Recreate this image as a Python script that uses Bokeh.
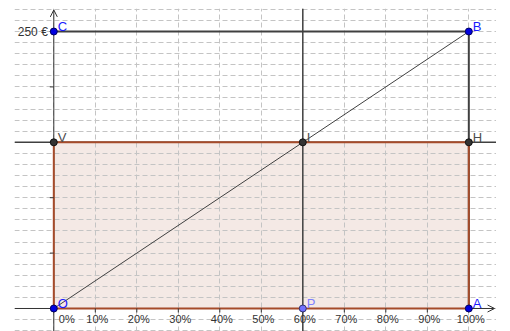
import math
from bokeh.plotting import figure
from bokeh.models import Range1d, Grid, SingleIntervalTicker, Span, Arrow, OpenHead, ColumnDataSource
from bokeh.core.properties import value
from bokeh.embed import file_html
from bokeh.resources import INLINE

# ---- data ----
pct_ticks = [0, 10, 20, 30, 40, 50, 60, 70, 80, 90, 100]
pct_labels = ["0%", "10%", "20%", "30%", "40%", "50%", "60%", "70%", "80%", "90%", "100%"]
eur_ticks = [50, 100, 150, 200, 250]
eur_label_values = [250]
eur_labels = ["250 €"]
point_names = ["O", "A", "B", "C", "V", "H", "I", "P"]
point_x = [0, 100, 100, 0, 0, 100, 60, 60]
point_y = [0, 0, 250, 250, 150, 150, 150, 0]
p_pct = 60
level_eur = 150

# ---- view ----
X0, X1 = -9.47, 106.67
Y0, Y1 = -20.76, 270.76
X_ARROW, Y_ARROW = 106.2, 269.5

pt = {n: (x, y) for n, x, y in zip(point_names, point_x, point_y)}

DARK = "#404040"
BROWN = "#a64b2a"

p = figure(width=496, height=331, x_range=Range1d(X0, X1), y_range=Range1d(Y0, Y1),
           x_axis_type=None, y_axis_type=None, output_backend="svg", toolbar_location=None,
           min_border_left=14, min_border_right=0, min_border_top=8, min_border_bottom=0)
p.outline_line_color = None
p.background_fill_color = "white"

for dim in (0, 1):
    g = Grid(dimension=dim, ticker=SingleIntervalTicker(interval=10),
             grid_line_color="#c4c4c4", grid_line_dash="5 3", grid_line_width=1)
    p.add_layout(g)

# polygon O A H V
poly = ["O", "A", "H", "V"]
p.patch([pt[n][0] for n in poly], [pt[n][1] for n in poly],
        fill_color=BROWN, fill_alpha=0.12, line_color=None, level="underlay")

# lines
p.add_layout(Span(location=level_eur, dimension="width", line_color=DARK, line_width=1.5, level="underlay"))
p.add_layout(Span(location=p_pct, dimension="height", line_color=DARK, line_width=1.5, level="underlay"))

# axes
p.add_layout(Arrow(end=OpenHead(size=7, line_color="#333333", line_width=1),
                   x_start=X0, y_start=0, x_end=X_ARROW, y_end=0,
                   line_color="#333333", line_width=1, level="underlay"))
p.add_layout(Arrow(end=OpenHead(size=7, line_color="#333333", line_width=1),
                   x_start=0, y_start=Y0, x_end=0, y_end=Y_ARROW,
                   line_color="#333333", line_width=1, level="underlay"))

cba = ["C", "B", "A"]
p.line([pt[n][0] for n in cba], [pt[n][1] for n in cba], line_color=DARK, line_width=2)
p.line([pt["O"][0], pt["B"][0]], [pt["O"][1], pt["B"][1]], line_color=DARK, line_width=1)

# polygon border
p.patch([pt[n][0] for n in poly], [pt[n][1] for n in poly],
        fill_color=None, line_color=BROWN, line_width=2)

# ticks
p.ray(x=pct_ticks, y=[0] * len(pct_ticks), length=4, length_units="screen",
      angle=-math.pi / 2, line_color="#333333", line_width=1)
p.ray(x=[0] * len(eur_ticks), y=eur_ticks, length=4, length_units="screen",
      angle=math.pi, line_color="#333333", line_width=1)

# tick labels
p.text(x=pct_ticks[1:], y=[0] * (len(pct_ticks) - 1), text=pct_labels[1:],
       x_offset=2, y_offset=11, text_align="center", text_baseline="middle",
       text_font=value("Liberation Sans"), text_font_size="11px", text_color="#333333")
p.text(x=pct_ticks[:1], y=[0], text=pct_labels[:1],
       x_offset=5, y_offset=11, text_align="left", text_baseline="middle",
       text_font=value("Liberation Sans"), text_font_size="11px", text_color="#333333")
p.text(x=[0] * len(eur_label_values), y=eur_label_values, text=eur_labels,
       x_offset=-6, y_offset=0, text_align="right", text_baseline="middle",
       text_font=value("Liberation Sans"), text_font_size="12px", text_color="#333333")

# points
fill = []
outl = []
lab = []
for n in point_names:
    if n in ("O", "A", "B", "C"):
        fill.append("#0000e0"); outl.append("#000060"); lab.append("#1a1aff")
    elif n == "P":
        fill.append("#7070ff"); outl.append("#303070"); lab.append("#8080ff")
    else:
        fill.append("#333333"); outl.append("#111111"); lab.append("#4d4d4d")
src = ColumnDataSource(dict(x=point_x, y=point_y, name=point_names, fill=fill, outl=outl, lab=lab))
p.scatter("x", "y", source=src, size=7, fill_color="fill", line_color="outl", line_width=1)
p.text("x", "y", text="name", source=src, x_offset=4, y_offset=-5,
       text_align="left", text_baseline="alphabetic", text_color="lab",
       text_font=value("Liberation Sans"), text_font_size="13px")

open("out.html", "w").write(file_html(p, INLINE))
